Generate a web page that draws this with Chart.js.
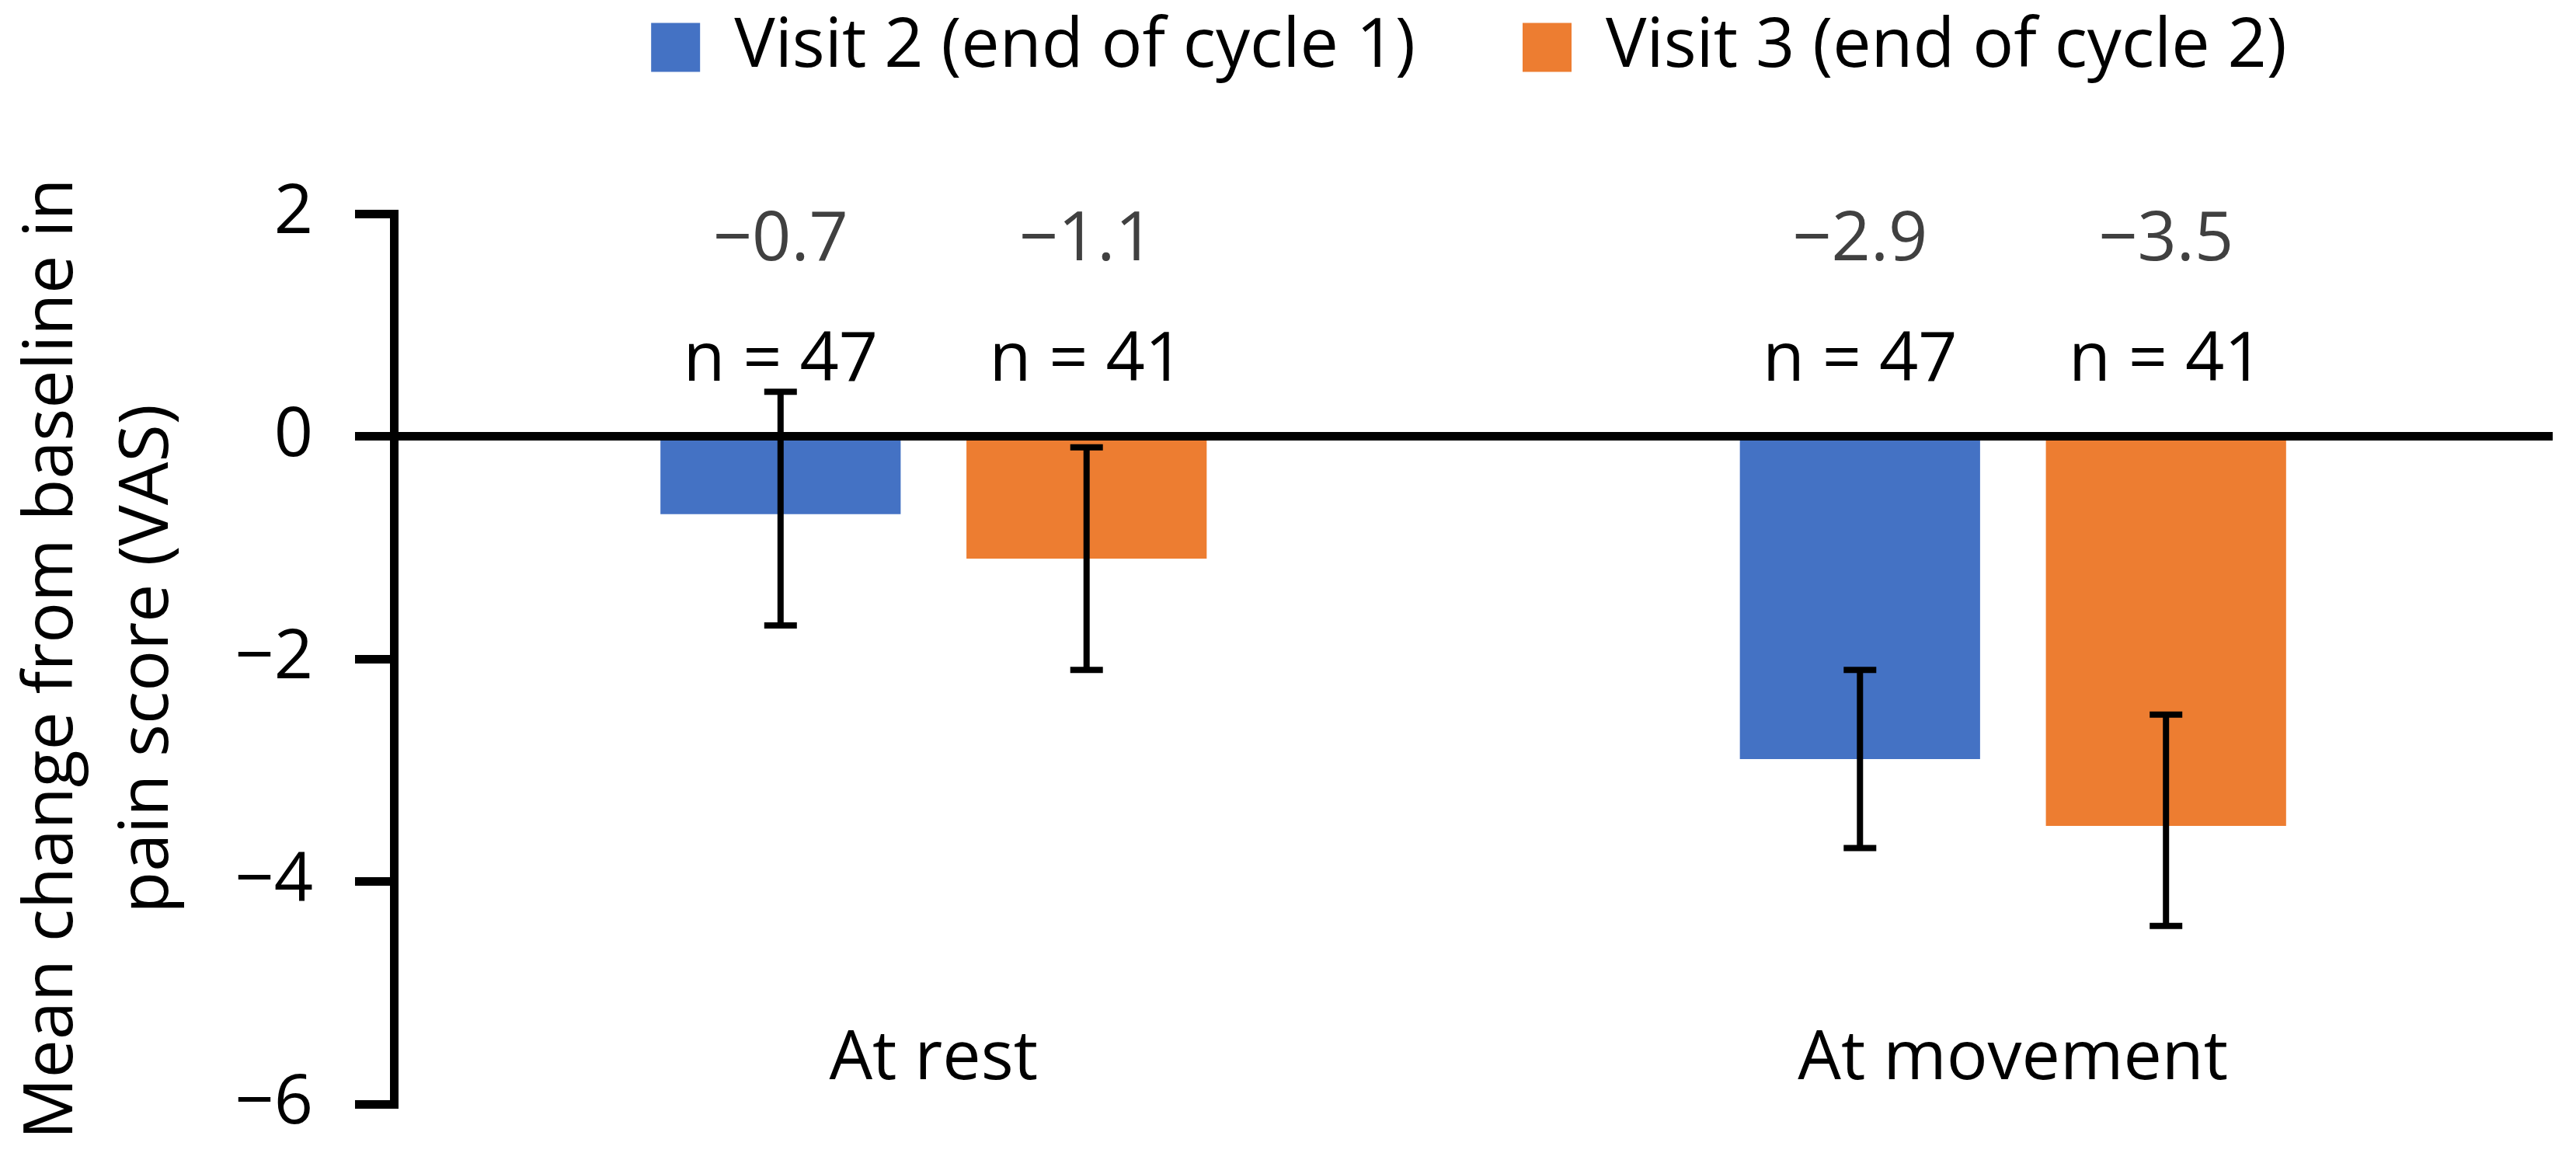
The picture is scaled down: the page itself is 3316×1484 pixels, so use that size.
<!DOCTYPE html>
<html>
<head>
<meta charset="utf-8">
<title>Mean change from baseline in pain score (VAS)</title>
<script src="https://cdn.jsdelivr.net/npm/chart.js@4.4.1/dist/chart.umd.min.js"></script>
<style>
  html, body { margin: 0; padding: 0; background: #fff; }
  canvas { display: block; }
</style>
</head>
<body>
<canvas id="painChart" width="3316" height="1484"></canvas>
<script>
// data
const categories = ['At rest', 'At movement'];
const seriesNames = ['Visit 2 (end of cycle 1)', 'Visit 3 (end of cycle 2)'];
const visit2Values = [-0.7, -2.9];
const visit3Values = [-1.1, -3.5];
const visit2Low = [-1.7, -3.7];
const visit2High = [0.4, -2.1];
const visit3Low = [-2.1, -4.4];
const visit3High = [-0.1, -2.5];
const visit2N = [47, 47];
const visit3N = [41, 41];
const yTickValues = [2, 0, -2, -4, -6];

const BLUE = '#4472C4';
const ORANGE = '#ED7D31';
const FONT = '"Open Sans", "Noto Sans", sans-serif';

Chart.defaults.font.family = FONT;
Chart.defaults.font.size = 88;
Chart.defaults.color = '#000';

function minus(v) {
  return v < 0 ? '\u2212' + Math.abs(v) : String(v);
}

// keeps the legend band at a fixed height and places it over the plot
const legendPlacement = {
  id: 'legendPlacement',
  beforeLayout(chart) {
    const lg = chart.legend;
    if (!lg || lg._patched) return;
    const fit = lg.fit;
    lg.fit = function () {
      fit.call(this);
      this.height = 275;
    };
    lg._patched = true;
  },
  afterLayout(chart) {
    const lg = chart.legend;
    const dx = 1891 - (lg.left + lg.right) / 2;
    lg.left += dx;
    lg.right += dx;
    const pad = lg.options.labels.padding;
    lg.top = 17 - pad;
    lg.bottom = lg.top + lg.height;
  }
};

const errorBars = {
  id: 'errorBars',
  afterDatasetsDraw(chart) {
    const ctx = chart.ctx;
    const y = chart.scales.y;
    ctx.save();
    ctx.strokeStyle = '#000';
    ctx.lineWidth = 8;
    chart.data.datasets.forEach((ds, di) => {
      chart.getDatasetMeta(di).data.forEach((bar, i) => {
        const yHi = y.getPixelForValue(ds.errHigh[i]);
        const yLo = y.getPixelForValue(ds.errLow[i]);
        const x = bar.x;
        ctx.beginPath();
        ctx.moveTo(x, yHi);
        ctx.lineTo(x, yLo);
        ctx.moveTo(x - 21, yHi);
        ctx.lineTo(x + 21, yHi);
        ctx.moveTo(x - 21, yLo);
        ctx.lineTo(x + 21, yLo);
        ctx.stroke();
      });
    });
    ctx.restore();
  }
};

const barTexts = {
  id: 'barTexts',
  afterDraw(chart) {
    const ctx = chart.ctx;
    const area = chart.chartArea;
    const xScale = chart.scales.x;
    ctx.save();
    ctx.textAlign = 'center';
    ctx.textBaseline = 'middle';
    ctx.font = '88px ' + FONT;
    chart.data.datasets.forEach((ds, di) => {
      chart.getDatasetMeta(di).data.forEach((bar, i) => {
        ctx.fillStyle = '#404040';
        ctx.fillText('\u2212' + Math.abs(ds.data[i]).toFixed(1), bar.x, area.top + 35);
        ctx.fillStyle = '#000';
        ctx.fillText('n = ' + ds.nCount[i], bar.x, area.top + 190);
      });
    });
    ctx.fillStyle = '#000';
    categories.forEach((c, i) => {
      ctx.fillText(c, xScale.getPixelForValue(i), area.bottom - 57);
    });
    ctx.restore();
  }
};

const ctx = document.getElementById('painChart').getContext('2d');
const chart = new Chart(ctx, {
  type: 'bar',
  data: {
    labels: categories,
    datasets: [{
      label: seriesNames[0],
      data: visit2Values,
      errLow: visit2Low,
      errHigh: visit2High,
      nCount: visit2N,
      backgroundColor: BLUE
    }, {
      label: seriesNames[1],
      data: visit3Values,
      errLow: visit3Low,
      errHigh: visit3High,
      nCount: visit3N,
      backgroundColor: ORANGE
    }]
  },
  options: {
    responsive: false,
    devicePixelRatio: 1,
    animation: false,
    categoryPercentage: 0.567,
    barPercentage: 0.785,
    layout: {
      padding: { top: 0, right: 30, bottom: 63, left: 0 }
    },
    plugins: {
      tooltip: { enabled: false },
      legend: {
        position: 'top',
        labels: {
          boxWidth: 63,
          boxHeight: 63,
          padding: 138,
          color: '#000',
          font: { size: 88 }
        }
      }
    },
    scales: {
      x: {
        display: false
      },
      y: {
        min: -6,
        max: 2,
        z: 1,
        afterBuildTicks(scale) {
          scale.ticks = yTickValues.map(v => ({ value: v }));
        },
        afterFit(scale) {
          scale.width = 507;
          scale.paddingTop = 0;
          scale.paddingBottom = 0;
        },
        ticks: {
          padding: 54,
          color: '#000',
          font: { size: 88 },
          callback: v => minus(v)
        },
        grid: {
          drawOnChartArea: true,
          color: c => (c.tick && c.tick.value === 0 ? '#000' : 'rgba(0,0,0,0)'),
          tickColor: '#000',
          lineWidth: 11,
          tickLength: 50
        },
        border: { display: true, color: '#000', width: 11 },
        title: {
          display: true,
          text: ['Mean change from baseline in', 'pain score (VAS)'],
          color: '#000',
          font: { size: 88, lineHeight: 1.4 },
          padding: { top: 6 }
        }
      }
    }
  },
  plugins: [legendPlacement, errorBars, barTexts]
});
</script>
</body>
</html>
